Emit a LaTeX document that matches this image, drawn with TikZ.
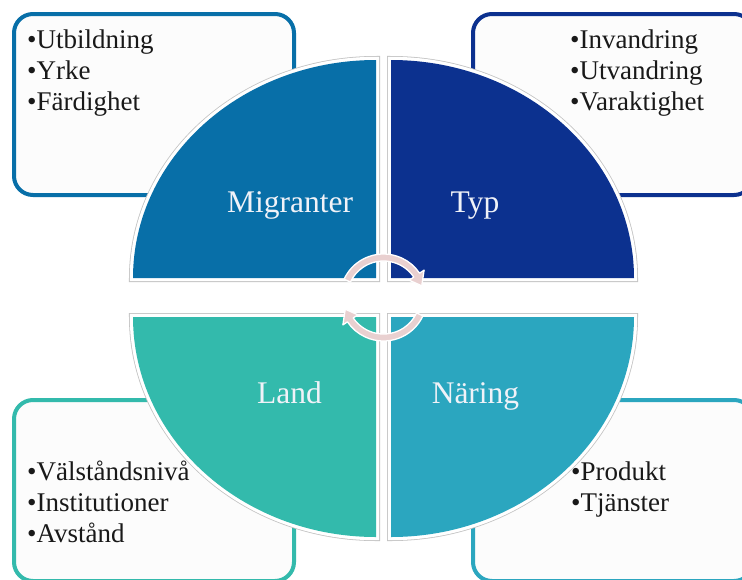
\documentclass[tikz,border=0pt]{standalone}
\usepackage{fontspec}
\setmainfont{Liberation Serif}
\definecolor{cMig}{RGB}{8,111,168}
\definecolor{cTyp}{RGB}{12,49,143}
\definecolor{cLand}{RGB}{51,186,172}
\definecolor{cNar}{RGB}{43,166,191}
\definecolor{cArr}{RGB}{233,208,208}
\definecolor{cEdge}{RGB}{195,195,195}
\definecolor{cBoxFill}{RGB}{252,252,252}
\definecolor{cTxt}{RGB}{25,25,25}
\definecolor{cLbl}{RGB}{240,242,248}
\begin{document}
\begin{tikzpicture}[x=1pt,y=1pt,
  infobox/.style={rounded corners=19pt, line width=4pt, fill=cBoxFill},
  bullettext/.style={anchor=base west, inner sep=0pt, text=cTxt, font=\fontsize{27}{31}\selectfont},
  segtext/.style={anchor=base, inner sep=0pt, text=cLbl, font=\fontsize{31.5}{36}\selectfont},
  seg/.style={preaction={draw=cEdge, line width=8pt}, preaction={draw=white, line width=6.4pt}},
  arrowbody/.style={fill=cArr, draw=white, line width=1.3pt, line join=round}]
\useasboundingbox (0,0) rectangle (742,-579);
\clip (0,0) rectangle (742,-579);
\fill[white] (0,0) rectangle (742,-579);
% info boxes
\draw[infobox, draw=cMig] (14,-14) rectangle (294,-195);
\draw[infobox, draw=cTyp] (473,-14) rectangle (753,-195);
\draw[infobox, draw=cLand] (14,-400) rectangle (294,-581);
\draw[infobox, draw=cNar] (473,-400) rectangle (753,-581);
% bullet texts
\node[bullettext] (b1) at (27,-48) {•Utbildning};
\node[bullettext] (b2) at (27,-79) {•Yrke};
\node[bullettext] (b3) at (27,-110) {•Färdighet};
\node[bullettext] (b4) at (570,-48) {•Invandring};
\node[bullettext] (b5) at (570,-79) {•Utvandring};
\node[bullettext] (b6) at (570,-110) {•Varaktighet};
\node[bullettext] (b7) at (27,-480) {•Välståndsnivå};
\node[bullettext] (b8) at (27,-511) {•Institutioner};
\node[bullettext] (b9) at (27,-542) {•Avstånd};
\node[bullettext] (b10) at (571,-480) {•Produkt};
\node[bullettext] (b11) at (571,-511) {•Tjänster};
% quarter segments
\path[seg, fill=cMig] (376,-278) -- (133,-278) arc[start angle=180, end angle=90, x radius=243, y radius=218] -- cycle;
\path[seg, fill=cTyp] (391,-278) -- (391,-60) arc[start angle=90, end angle=0, x radius=243, y radius=218] -- cycle;
\path[seg, fill=cLand] (376,-317) -- (133,-317) arc[start angle=180, end angle=270, x radius=243, y radius=220] -- cycle;
\path[seg, fill=cNar] (391,-317) -- (634,-317) arc[start angle=0, end angle=-90, x radius=243, y radius=220] -- cycle;
% circular arrows
\begin{scope}[shift={(383.5,-297.5)}]
  \draw[arrowbody] (155:43.5) arc[start angle=155, end angle=34, radius=43.5]
    -- (34:49) -- (17:40) -- (34:31) -- (34:36.5)
    arc[start angle=34, end angle=155, radius=36.5] -- cycle;
  \begin{scope}[rotate=180]
  \draw[arrowbody] (155:43.5) arc[start angle=155, end angle=34, radius=43.5]
    -- (34:49) -- (17:40) -- (34:31) -- (34:36.5)
    arc[start angle=34, end angle=155, radius=36.5] -- cycle;
  \end{scope}
\end{scope}
% segment labels
\node[segtext] (mig) at (290,-212) {Migranter};
\node[segtext] (typ) at (475,-212) {Typ};
\node[segtext] (land) at (289.5,-403) {Land};
\node[segtext] (nar) at (475.5,-403) {Näring};
\end{tikzpicture}
\end{document}
